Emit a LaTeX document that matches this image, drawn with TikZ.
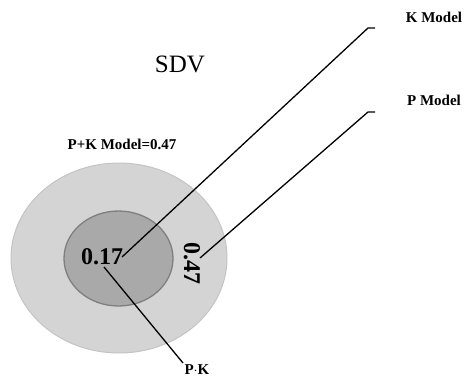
\documentclass[tikz,border=0pt]{standalone}
\usepackage{fontspec}
\setmainfont{Liberation Serif}
\definecolor{outerfill}{HTML}{D4D4D4}
\definecolor{outerline}{HTML}{C4C4C4}
\definecolor{innerfill}{HTML}{A9A9A9}
\definecolor{innerline}{HTML}{7F7F7F}
\begin{document}
\begin{tikzpicture}[x=1pt,y=-1pt,
  lbl/.style={font=\fontsize{15}{17}\selectfont\bfseries, inner sep=0pt},
  big/.style={font=\fontsize{24}{26}\selectfont\bfseries, inner sep=0pt},
  leader/.style={draw=black, line width=1.3pt}]
\useasboundingbox (0,0) rectangle (466,383);
\fill[outerfill, draw=outerline, line width=1pt] (119,258) ellipse [x radius=108, y radius=95];
\fill[innerfill, draw=innerline, line width=1.3pt] (118.5,258.5) ellipse [x radius=54.5, y radius=47.5];
\node[font=\fontsize{25}{27}\selectfont, inner sep=0pt] (sdv) at (180,64) {SDV};
\node[lbl] (pk) at (122,144) {P+K Model=0.47};
\node[lbl] (km) at (434,17) {K Model};
\node[lbl] (pm) at (434,100) {P Model};
\node[lbl] (pdk) at (197,370) {P$\cdot$K};
\node[big] (v17) at (102,257) {0.17};
\node[big, rotate=-90] (v47) at (192,263) {0.47};
\coordinate (ka) at (122,257);
\coordinate (kb) at (368,28);
\coordinate (kc) at (375,28);
\coordinate (pa) at (200,258);
\coordinate (pb) at (368,112);
\coordinate (pc) at (375,112);
\coordinate (qa) at (104,267);
\coordinate (qb) at (183,363);
\draw[leader] (ka) -- (kb) -- (kc);
\draw[leader] (pa) -- (pb) -- (pc);
\draw[leader] (qa) -- (qb);
\end{tikzpicture}
\end{document}
